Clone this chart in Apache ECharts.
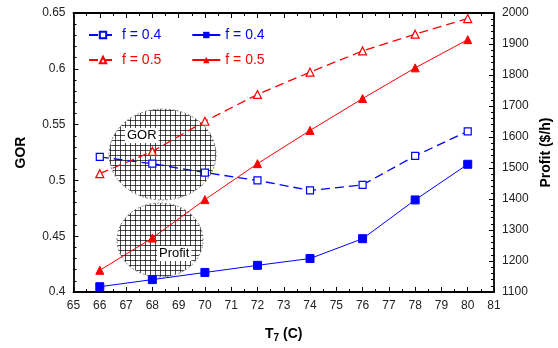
<!DOCTYPE html>
<html>
<head>
<meta charset="utf-8">
<script src="https://cdn.jsdelivr.net/npm/echarts@6/dist/echarts.min.js"></script>
<style>
  html, body { margin: 0; padding: 0; background: #fff; }
  #chart { width: 558px; height: 348px; }
</style>
</head>
<body>
<div id="chart"></div>
<script>
// T7 (C)
const temps = [66, 68, 70, 72, 74, 76, 78, 80]
// GOR, left axis
const gorF04 = [0.521, 0.515, 0.507, 0.500, 0.491, 0.496, 0.522, 0.544]
const gorF05 = [0.506, 0.526, 0.553, 0.577, 0.597, 0.616, 0.631, 0.645]
// Profit ($/h), right axis
const profitF04 = [1117, 1140, 1163, 1186, 1208, 1272, 1397, 1512]
const profitF05 = [1170, 1274, 1398, 1514, 1621, 1724, 1823, 1914]

const BLUE = '#0000ff'
const RED = '#ff0000'
const FONT = 'Liberation Sans, Arial, sans-serif'

const pair = (xs, ys) => xs.map((x, i) => [x, ys[i]])

// grid pattern for the hatched ellipses
const hatch = document.createElement('canvas')
hatch.width = 5
hatch.height = 5
const hctx = hatch.getContext('2d')
hctx.fillStyle = '#ffffff'
hctx.fillRect(0, 0, 5, 5)
hctx.fillStyle = 'rgba(0,0,0,0.7)'
hctx.fillRect(0, 0, 5, 1)
hctx.fillRect(0, 0, 1, 5)

const chart = echarts.init(document.getElementById('chart'))

const tickAxis = {
  axisLine: { show: true, lineStyle: { color: '#000', width: 1.8 } },
  axisTick: { show: true, inside: true, length: 5, lineStyle: { color: '#000' } },
  splitLine: { show: false },
  axisLabel: { color: '#222', fontSize: 12, fontFamily: FONT }
}

const legendText = (color) => ({ color: color, fontSize: 14, fontFamily: FONT })

chart.setOption({
  animation: false,
  textStyle: { fontFamily: FONT },
  grid: { left: 73.5, right: 64, top: 13, bottom: 56, outerBoundsMode: 'none' },
  legend: [
    {
      left: 88, top: 28, padding: 0, itemWidth: 28, itemHeight: 8, itemGap: 30,
      data: [
        { name: 'GOR f = 0.4', textStyle: legendText(BLUE) },
        { name: 'Profit f = 0.4', textStyle: legendText(BLUE) }
      ],
      formatter: (n) => n.replace(/^(GOR|Profit) /, '')
    },
    {
      left: 88, top: 53, padding: 0, itemWidth: 28, itemHeight: 8, itemGap: 30,
      data: [
        { name: 'GOR f = 0.5', textStyle: legendText(RED) },
        { name: 'Profit f = 0.5', textStyle: legendText(RED) }
      ],
      formatter: (n) => n.replace(/^(GOR|Profit) /, '')
    }
  ],
  xAxis: [
    Object.assign({}, tickAxis, {
      type: 'value', min: 65, max: 81, interval: 1,
      minorTick: { show: true, splitNumber: 2, length: 3, lineStyle: { color: '#000' } },
      axisLabel: { color: '#222', fontSize: 12, fontFamily: FONT, margin: 8 },
      name: '{a|T}{b|7}{a| (C)}',
      nameLocation: 'middle',
      nameGap: 33,
      nameTextStyle: {
        rich: {
          a: { fontSize: 14, fontWeight: 'bold', fontFamily: FONT, color: '#000' },
          b: { fontSize: 10, fontWeight: 'bold', fontFamily: FONT, color: '#000', padding: [8, 0, 0, 0] }
        }
      }
    }),
    Object.assign({}, tickAxis, {
      type: 'value', min: 65, max: 81, interval: 1, position: 'top',
      minorTick: { show: true, splitNumber: 2, length: 3, lineStyle: { color: '#000' } },
      axisLabel: { show: false }
    })
  ],
  yAxis: [
    Object.assign({}, tickAxis, {
      type: 'value', min: 0.4, max: 0.65, interval: 0.05, position: 'left',
      minorTick: { show: true, splitNumber: 5, length: 3, lineStyle: { color: '#000' } },
      name: 'GOR',
      nameLocation: 'middle',
      nameRotate: 90,
      nameGap: 45,
      nameTextStyle: { fontSize: 14, fontWeight: 'bold', color: '#000', fontFamily: FONT }
    }),
    Object.assign({}, tickAxis, {
      type: 'value', min: 1100, max: 2000, interval: 100, position: 'right',
      minorTick: { show: true, splitNumber: 5, length: 3, lineStyle: { color: '#000' } },
      axisLabel: { color: '#222', fontSize: 12, fontFamily: FONT, formatter: (v) => String(v) },
      name: 'Profit ($/h)',
      nameLocation: 'middle',
      nameRotate: 90,
      nameGap: 45,
      nameTextStyle: { fontSize: 14, fontWeight: 'bold', color: '#000', fontFamily: FONT }
    })
  ],
  graphic: [
    {
      type: 'ellipse', z: 1,
      shape: { cx: 162.5, cy: 154.5, rx: 53.5, ry: 45.5 },
      style: { fill: { image: hatch, repeat: 'repeat' }, stroke: '#888', lineWidth: 1, lineDash: [2, 2] }
    },
    {
      type: 'ellipse', z: 1,
      shape: { cx: 160, cy: 240, rx: 43, ry: 37 },
      style: { fill: { image: hatch, repeat: 'repeat' }, stroke: '#888', lineWidth: 1, lineDash: [2, 2] }
    },
    {
      type: 'text', z: 50, left: 125, top: 128,
      style: { text: 'GOR', fontSize: 13, fontFamily: FONT, fill: '#000', backgroundColor: '#fff', padding: [1, 2] }
    },
    {
      type: 'text', z: 50, left: 157, top: 246,
      style: { text: 'Profit', fontSize: 13, fontFamily: FONT, fill: '#000', backgroundColor: '#fff', padding: [1, 2] }
    }
  ],
  series: [
    {
      name: 'GOR f = 0.4', type: 'line', yAxisIndex: 0, z: 10,
      data: pair(temps, gorF04),
      symbol: 'rect', symbolSize: 7,
      lineStyle: { color: BLUE, width: 1.3, type: [9, 5] },
      itemStyle: { color: '#fff', borderColor: BLUE, borderWidth: 1.2 }
    },
    {
      name: 'Profit f = 0.4', type: 'line', yAxisIndex: 1, z: 10,
      data: pair(temps, profitF04),
      symbol: 'rect', symbolSize: 8,
      lineStyle: { color: BLUE, width: 1 },
      itemStyle: { color: BLUE, borderColor: BLUE }
    },
    {
      name: 'GOR f = 0.5', type: 'line', yAxisIndex: 0, z: 10,
      data: pair(temps, gorF05),
      symbol: 'triangle', symbolSize: 8,
      lineStyle: { color: RED, width: 1.3, type: [9, 5] },
      itemStyle: { color: '#fff', borderColor: RED, borderWidth: 1.2 }
    },
    {
      name: 'Profit f = 0.5', type: 'line', yAxisIndex: 1, z: 10,
      data: pair(temps, profitF05),
      symbol: 'triangle', symbolSize: 8,
      lineStyle: { color: RED, width: 1 },
      itemStyle: { color: RED, borderColor: RED }
    }
  ]
})
</script>
</body>
</html>
